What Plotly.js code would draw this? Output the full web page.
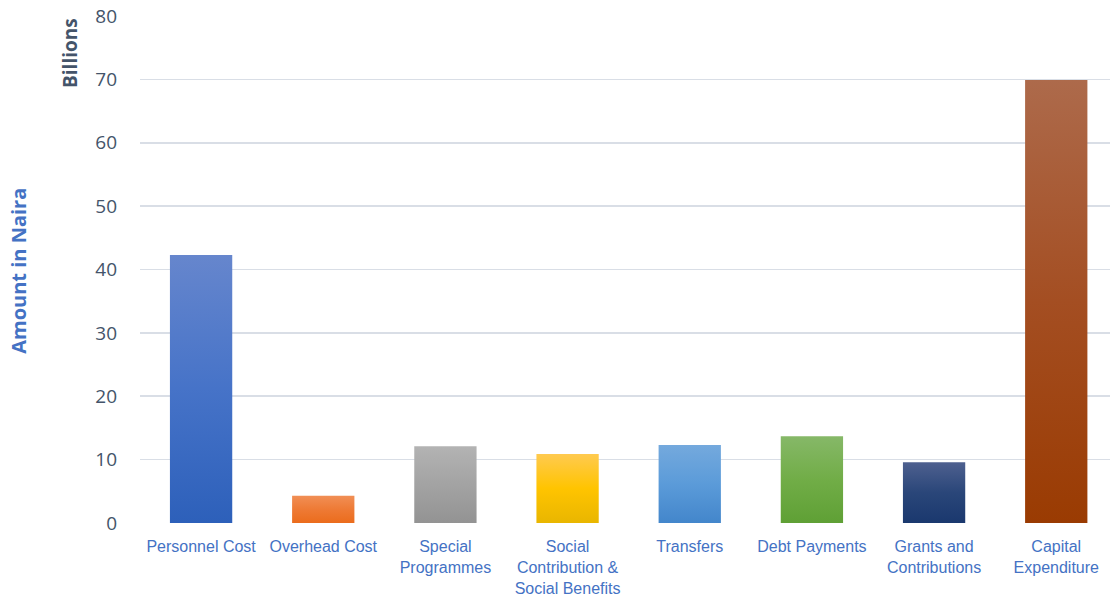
<!DOCTYPE html>
<html>
<head>
<meta charset="utf-8">
<script src="https://cdn.plot.ly/plotly-3.0.1.min.js"></script>
<style>
html,body{margin:0;padding:0;background:#fff;}
#chart{width:1110px;height:603px;}
</style>
</head>
<body>
<div id="chart"></div>
<script>
const categories = ["Personnel Cost","Overhead Cost","Special<br>Programmes","Social<br>Contribution &<br>Social Benefits","Transfers","Debt Payments","Grants and<br>Contributions","Capital<br>Expenditure"];
const values = [42.3, 4.3, 12.1, 10.9, 12.3, 13.7, 9.6, 69.9];
const barColors = ["#4673C8","#EE7A35","#A3A3A3","#FFC400","#5B9BD9","#71AD47","#2A4679","#A44E22"];
const gradTop = ["#6686CD","#F18F55","#B3B3B3","#FFCA50","#74A9DD","#86B868","#4E608F","#AD6A4B"];
const gradBottom = ["#2D60BA","#EB6C1C","#939393","#E9B600","#4386CB","#5FA035","#1A386E","#9A3B02"];
const yTicks = [0,10,20,30,40,50,60,70,80];

const trace = {
  type: "bar",
  x: categories,
  y: values,
  marker: {color: barColors, line: {width: 0}},
  hoverinfo: "x+y"
};

const layout = {
  width: 1110,
  height: 603,
  margin: {l: 140, r: 0, t: 16, b: 80},
  paper_bgcolor: "#ffffff",
  plot_bgcolor: "#ffffff",
  bargap: 0.49,
  showlegend: false,
  xaxis: {
    range: [-0.5, 7.44],
    showgrid: false,
    zeroline: false,
    showline: false,
    ticks: "",
    tickangle: 0,
    ticklabelstandoff: 12,
    automargin: false,
    tickfont: {family: "Liberation Sans, Arial, sans-serif", size: 16, color: "#4472C4"}
  },
  yaxis: {
    range: [0, 80],
    tickvals: yTicks,
    ticktext: yTicks.map(String),
    showgrid: true,
    gridcolor: "#D9DEE6",
    gridwidth: 1.6,
    zeroline: false,
    showline: false,
    ticks: "",
    ticklabelstandoff: 22,
    automargin: false,
    tickfont: {family: "Open Sans, Liberation Sans, sans-serif", size: 19, color: "#44546A"}
  },
  annotations: [{
    text: "<b>Billions</b>",
    xref: "paper", yref: "paper",
    x: -0.0722, y: 1.0,
    xanchor: "center", yanchor: "top",
    textangle: -90,
    showarrow: false,
    font: {family: "Open Sans, Liberation Sans, sans-serif", size: 19, color: "#44546A"}
  }, {
    text: "<b>Amount in Naira</b>",
    xref: "paper", yref: "paper",
    x: -0.126, y: 0.497,
    xanchor: "center", yanchor: "middle",
    textangle: -90,
    showarrow: false,
    font: {family: "Open Sans, Liberation Sans, sans-serif", size: 20, color: "#4472C4"}
  }]
};

Plotly.newPlot("chart", [trace], layout, {displayModeBar: false, staticPlot: true}).then(function(gd){
  const NS = "http://www.w3.org/2000/svg";
  const svg = gd.querySelector("svg.main-svg");
  let defs = svg.querySelector("defs");
  if (!defs) { defs = document.createElementNS(NS, "defs"); svg.insertBefore(defs, svg.firstChild); }
  for (let i = 0; i < values.length; i++) {
    const g = document.createElementNS(NS, "linearGradient");
    g.setAttribute("id", "barGrad" + i);
    g.setAttribute("x1", "0"); g.setAttribute("y1", "0");
    g.setAttribute("x2", "0"); g.setAttribute("y2", "1");
    const s1 = document.createElementNS(NS, "stop");
    s1.setAttribute("offset", "0"); s1.setAttribute("stop-color", gradTop[i]);
    const s2 = document.createElementNS(NS, "stop");
    s2.setAttribute("offset", "0.5"); s2.setAttribute("stop-color", barColors[i]);
    const s3 = document.createElementNS(NS, "stop");
    s3.setAttribute("offset", "1"); s3.setAttribute("stop-color", gradBottom[i]);
    g.appendChild(s1); g.appendChild(s2); g.appendChild(s3);
    defs.appendChild(g);
  }
  const paths = gd.querySelectorAll(".trace.bars .point path");
  paths.forEach(function(p, i){ p.style.fill = "url(#barGrad" + i + ")"; });
});
</script>
</body>
</html>
